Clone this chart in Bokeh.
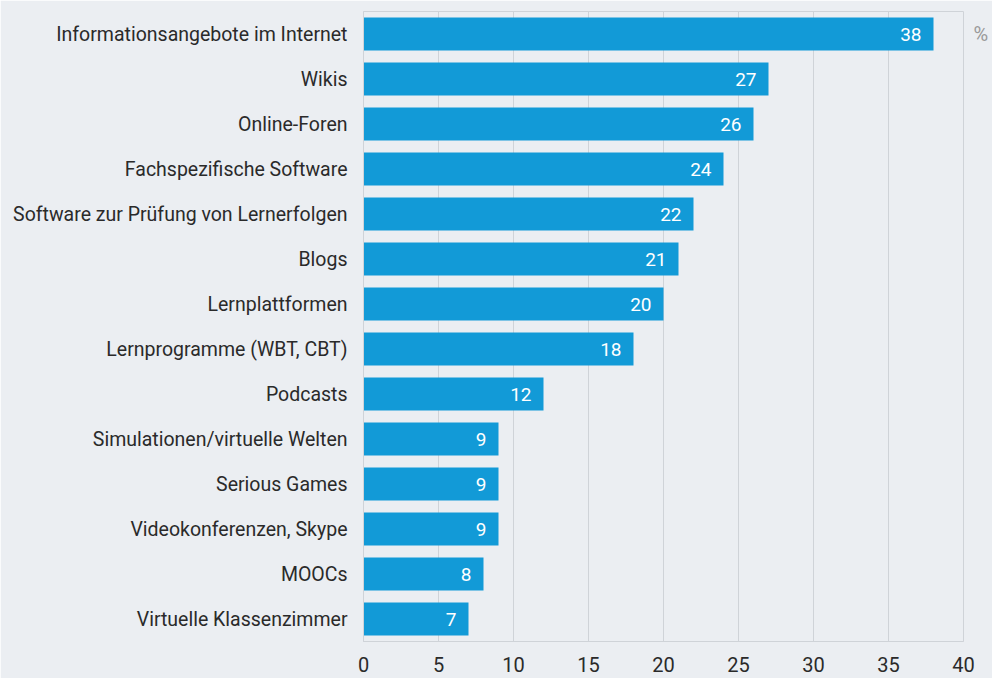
from bokeh.plotting import figure
from bokeh.models import (FixedTicker, LinearAxis, ColumnDataSource, Range1d,
                          CustomJSTickFormatter)
from bokeh.core.properties import value
from bokeh.embed import file_html
from bokeh.resources import INLINE

categories = [
    "Informationsangebote im Internet",
    "Wikis",
    "Online-Foren",
    "Fachspezifische Software",
    "Software zur Prüfung von Lernerfolgen",
    "Blogs",
    "Lernplattformen",
    "Lernprogramme (WBT, CBT)",
    "Podcasts",
    "Simulationen/virtuelle Welten",
    "Serious Games",
    "Videokonferenzen, Skype",
    "MOOCs",
    "Virtuelle Klassenzimmer",
]
values = [38, 27, 26, 24, 22, 21, 20, 18, 12, 9, 9, 9, 8, 7]
x_ticks = [0, 5, 10, 15, 20, 25, 30, 35, 40]
unit_label = "%"

BG = "#ebeef2"
BAR = "#129ad7"
GRID = "#cfd3d8"
FONT = "Roboto"

n = len(categories)
ypos = [n - 1 - i for i in range(n)]  # first category on top
src = ColumnDataSource(dict(y=ypos, val=values, lbl=[str(v) for v in values]))

p = figure(
    frame_width=600, frame_height=630,
    y_range=Range1d(-0.5, n - 0.5),
    x_range=Range1d(0, 40),
    output_backend="svg", toolbar_location=None,
    min_border_left=363, min_border_right=29, min_border_top=11, min_border_bottom=37,
)
p.background_fill_color = BG
p.border_fill_color = BG
p.outline_line_color = GRID

p.hbar(y="y", right="val", left=0, height=0.73, source=src, color=BAR, line_color=None)
p.text(x="val", y="y", text="lbl", source=src, x_offset=-12,
       text_align="right", text_baseline="middle", text_color="white",
       text_font=value(FONT), text_font_size="19px")

p.xaxis.ticker = FixedTicker(ticks=x_ticks)
p.xaxis.major_tick_line_color = None
p.xaxis.minor_tick_line_color = None
p.xaxis.axis_line_color = GRID
p.xaxis.major_label_text_font = FONT
p.xaxis.major_label_text_font_size = "20px"
p.xaxis.major_label_text_color = "#2a2a2a"
p.xaxis.major_label_standoff = 9

ya = p.yaxis[0]
ya.ticker = FixedTicker(ticks=ypos)
ya.formatter = CustomJSTickFormatter(
    args=dict(labels=categories),
    code="const i = labels.length - 1 - Math.round(tick);"
         "return (i >= 0 && i < labels.length) ? labels[i] : '';")
ya.major_tick_line_color = None
ya.minor_tick_line_color = None
ya.axis_line_color = GRID
ya.major_label_text_font = FONT
ya.major_label_text_font_size = "19.5px"
ya.major_label_text_color = "#2a2a2a"
ya.major_label_standoff = 10

p.xgrid.grid_line_color = GRID
p.xgrid.ticker = FixedTicker(ticks=x_ticks)
p.ygrid.grid_line_color = None

# unit label "%" beside the top bar, via a right-side axis with a single tick
unit_axis = LinearAxis(
    ticker=FixedTicker(ticks=[ypos[0]]),
    formatter=CustomJSTickFormatter(args=dict(u=unit_label), code="return u;"),
    axis_line_color=None, major_tick_line_color=None, minor_tick_line_color=None,
    major_label_text_font=FONT, major_label_text_font_size="20px",
    major_label_text_color="#9a9a9a", major_label_standoff=4,
)
p.add_layout(unit_axis, "right")

html = file_html(p, INLINE)
html = html.replace("<body>", '<body style="background:%s;overflow:hidden">' % BG, 1)
open("out.html", "w").write(html)
